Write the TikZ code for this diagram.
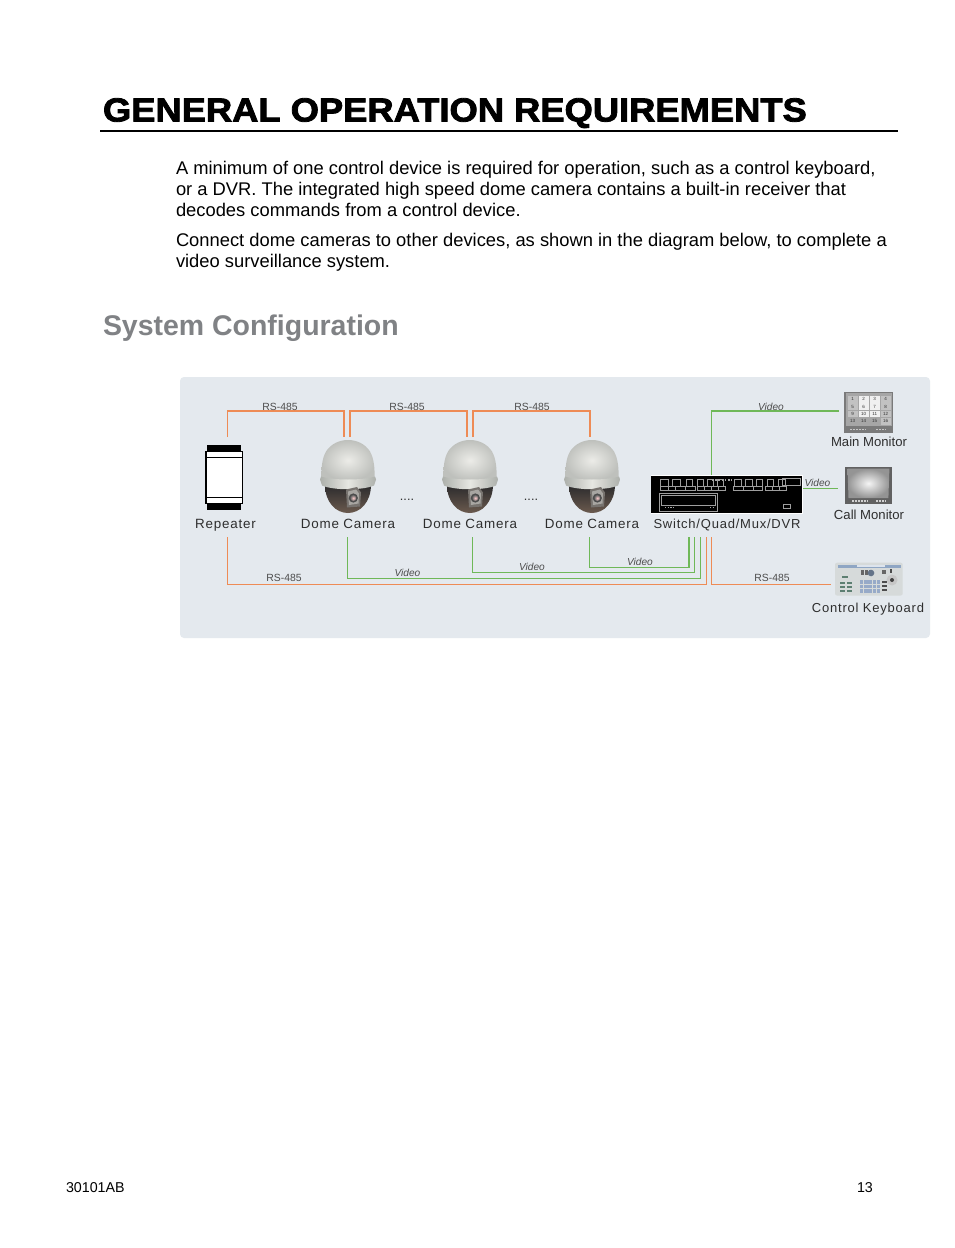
\documentclass[tikz,border=0pt]{standalone}
\usepackage{fontspec}
\setmainfont{Liberation Sans}
\newfontfamily\titlefont{Liberation Sans Bold}[FakeBold=2.4,FakeStretch=1.09]
\newfontfamily\labfont{Liberation Sans}[LetterSpace=6]
\newfontfamily\mlabfont{Liberation Sans}
\usetikzlibrary{calc}
\definecolor{panelc}{HTML}{E4E9EE}
\definecolor{orangec}{HTML}{EE8B55}
\definecolor{greenc}{HTML}{6FB858}
\definecolor{headgrey}{HTML}{808285}
\definecolor{labgrey}{HTML}{2E2E2E}
\definecolor{shellhi}{HTML}{ECECE8}
\definecolor{shelllo}{HTML}{BEC0BC}
\definecolor{collarhi}{HTML}{E6E7E2}
\definecolor{collarlo}{HTML}{ADB0AB}
\definecolor{balltop}{HTML}{2A2A2C}
\definecolor{ballbot}{HTML}{6B5A4E}
\definecolor{lensblock}{HTML}{77736F}
\definecolor{lensface}{HTML}{A8A6A2}
\definecolor{keyblue}{HTML}{97AAC8}
\definecolor{stripblue}{HTML}{8FA6C4}
\definecolor{keygreen}{HTML}{5D7F72}
\definecolor{kbbody}{HTML}{D6DADA}
\tikzset{
  x=0.75pt,y=-0.75pt,
  txt/.style={inner sep=0pt,outer sep=0pt,anchor=base west,text=black},
  para/.style={inner sep=0pt,outer sep=0pt,anchor=north west,align=left,font=\fontsize{13.76}{15.75}\selectfont},
  devlab/.style={inner sep=0pt,text=labgrey,font=\labfont\fontsize{10.05}{11}\selectfont,anchor=base},
  devlabs/.style={inner sep=0pt,text=labgrey,font=\labfont\fontsize{9.75}{11}\selectfont,anchor=base},
  monlab/.style={inner sep=0pt,text=labgrey,font=\mlabfont\fontsize{9.85}{12}\selectfont,anchor=base},
  wirelab/.style={inner sep=0pt,text=labgrey!85,font=\fontsize{7.8}{9}\selectfont,anchor=base},
  vidlab/.style={inner sep=0pt,text=labgrey!85,font=\itshape\fontsize{7.6}{9}\selectfont,anchor=base},
  rs/.style={draw=orangec,line width=1.15pt,line join=miter},
  vid/.style={draw=greenc,line width=1.1pt,line join=miter},
  box/.style={inner sep=0pt,outer sep=0pt,minimum width=0pt},
  swline/.style={draw=black!38,line width=0.4pt},
  pics/dome/.style={code={
    % lower ball
    \path[top color=balltop,bottom color=ballbot]
      (-23,8) .. controls (-23,26) and (-12,36.5) .. (0,36.5)
      .. controls (12,36.5) and (23,26) .. (23,8) -- cycle;
    % shell
    \path[inner color=shellhi,outer color=shelllo,draw=none]
      (-26.5,4) .. controls (-27,-8) and (-26,-18) .. (-22,-25)
      .. controls (-17,-33) and (-8,-36.5) .. (0,-36.5)
      .. controls (8,-36.5) and (17,-33) .. (22,-25)
      .. controls (26,-18) and (27,-8) .. (26.5,4) -- cycle;
    % collar
    \path[left color=collarlo,right color=collarlo,middle color=collarhi]
      (-28,3) -- (-27,0) .. controls (-15,4) and (15,4) .. (27,0) -- (28,3)
      -- (26,9) .. controls (15,14) and (-15,14) .. (-26,9) -- cycle;
    % lens block
    \path[fill=lensblock] (-2,13) -- (9,10.5) -- (13,16) -- (12,30) -- (-1,31) -- cycle;
    \path[fill=lensface] (0,15) -- (8,13) -- (11,17) -- (10.5,27) -- (1,28.5) -- cycle;
    \path[fill=black!70] (5.3,21.5) circle (4.6);
    \path[inner color=red!20!white,outer color=black!60] (5.3,21.5) circle (3);
  }},
}
\begin{document}
\begin{tikzpicture}
\useasboundingbox (0,0) rectangle (954,1248);
\fill[white] (0,0) rectangle (954,1248);

% --- page text
\node[txt,font=\titlefont\fontsize{25}{28}\selectfont] (title) at (103,121.5) {GENERAL OPERATION REQUIREMENTS};
\coordinate (ruleL) at (100,131.5);
\coordinate (ruleR) at (898,131.5);
\draw[black,line width=1.5pt] (ruleL) -- (ruleR);
\node[para] (p1) at (176,161.5) {A minimum of one control device is required for operation, such as a control keyboard,\\or a DVR. The integrated high speed dome camera contains a built-in receiver that\\decodes commands from a control device.};
\node[para] (p2) at (176,233.5) {Connect dome cameras to other devices, as shown in the diagram below, to complete a\\video surveillance system.};
\node[txt,text=headgrey,font=\bfseries\fontsize{21.35}{26}\selectfont] (sub) at (103,335.5) {System Configuration};
\node[txt,font=\fontsize{10.7}{12}\selectfont] (foot) at (66,1192) {30101AB};
\node[txt,font=\fontsize{10.7}{12}\selectfont] (pg) at (857,1192) {13};

% --- panel
\fill[panelc,rounded corners=3pt] (180,377) rectangle (930,638);

% --- repeater
\node[box] (repeater) at (224,477.5) {};
\fill[black] (207.3,445) rectangle (240.7,510);
\fill[black] (205,451) rectangle (243,504);
\fill[white] (206.5,452.4) rectangle (241.5,456.6);
\fill[white] (206.5,458.4) rectangle (241.5,496.6);
\fill[white] (206.5,498.4) rectangle (241.5,502.6);

% --- domes
\pic (dome1) at (348,476.5) {dome};
\pic (dome2) at (470,476.5) {dome};
\pic (dome3) at (592,476.5) {dome};
\node[inner sep=0pt,font=\fontsize{9.5}{9}\selectfont,text=labgrey,anchor=base] (dots1) at (407,500) {....};
\node[inner sep=0pt,font=\fontsize{9.5}{9}\selectfont,text=labgrey,anchor=base] (dots2) at (531,500) {....};

% --- switch
\fill[white] (650.5,475) rectangle (802.5,513.5);
\fill[black] (651.3,476) rectangle (801.7,512.5);
\foreach \xa/\xb in {660/668,668/675,675/685,685/695,697/704,704/711,711/718,718/725,733/743,743/753,753/762,765/772,772/779,779/786}{
  \draw[swline] (\xa,486) rectangle (\xb,490.5);
}
\foreach \xa/\xb in {660/668,672/680,686/692,697/703,707/713,717/723,734/741,745/752,756/762,767/773,778/785}{
  \draw[swline] (\xa,486) -- (\xa,479.5) -- (\xb,479.5) -- (\xb,486);
}
\draw[swline] (782,478.5) rectangle (800,485);
\draw[swline] (659.5,493.5) rectangle (717,511);
\draw[swline] (661.5,495.5) rectangle (715,505);
\draw[swline] (783,504.5) rectangle (790.5,508);
\draw[black!35,line width=0.8pt,dash pattern=on 1.2pt off 1.2pt] (712,480) -- (732,480);
\draw[black!35,line width=0.8pt,dash pattern=on 1pt off 1pt] (665,507.5) -- (674,507.5) (710,507.5) -- (714,507.5);

% --- main monitor
\fill[black!52] (844.3,391.7) rectangle (893,433);
\fill[black!35] (845.5,393) rectangle (891.8,426);
\foreach \i/\lbl in {0/1,1/2,2/3,3/4,4/5,5/6,6/7,7/8,8/9,9/10,10/11,11/12,12/13,13/14,14/15,15/16}{
  \pgfmathsetmacro{\cx}{847.5+mod(\i,4)*11}
  \pgfmathsetmacro{\cy}{396+floor(\i/4)*7.3}
  \pgfmathsetmacro{\sh}{(\i==1||\i==2||\i==5||\i==6||\i==9||\i==10)?6:(\i==12||\i==13||\i==14?35:24)}
  \fill[black!\sh] (\cx,\cy) rectangle ++(10.4,6.8);
  \node[inner sep=0pt,font=\fontsize{3.4}{4}\selectfont,text=black!80] at (\cx+5.2,\cy+3.4) {\lbl};
}
\draw[black!22,line width=0.8pt,dash pattern=on 1.4pt off 0.8pt] (850,429.5) -- (866,429.5) (876,429.5) -- (885,429.5);

% --- call monitor
\fill[black!62] (845,466.7) rectangle (891.7,504.3);
\path[inner color=white!92!gray,outer color=black!42] (847.5,468.6) -- (889.4,468.6) -- (888.4,498) -- (848.5,498) -- cycle;
\draw[black!18,line width=0.8pt,dash pattern=on 1.4pt off 0.8pt] (852,501) -- (868,501) (876,501) -- (885,501);

% --- keyboard
\fill[kbbody,rounded corners=1.5pt] (835,562.7) rectangle (902.7,595.5);
\fill[stripblue] (838,565) rectangle (901,567.6);
\fill[white!70!stripblue] (857,564.8) rectangle (885,567.4);
\foreach \row in {0,1,2}{
  \foreach \col in {0,1}{
    \fill[keygreen] ({840+\col*7},{582+\row*4}) rectangle ++(5,2);
  }
}
\fill[keygreen] (842,576) rectangle ++(6,2);
\foreach \col in {0,1,2,3,4}{
  \foreach \row in {0,1,2}{
    \fill[keyblue] ({860+\col*4.2},{580+\row*4.5}) rectangle ++(3.4,3.6);
  }
}
\foreach \col in {0,1,2}{ \fill[black!60] ({861+\col*4},570) rectangle ++(3,4.5);}
\fill[stripblue!70!black] (871,573) circle (3.3);
\foreach \row in {0,1,2}{ \fill[black!70] (882,{581+\row*4}) rectangle ++(5,2.2);}
\fill[black!60] (882,570) rectangle ++(4,4);
\fill[black!70] (890,569) rectangle ++(2,4);
\fill[black!22] (892,580) circle (5.5);
\fill[black!75] (892,580) circle (2);

% --- device labels
\node[devlab] (lrep) at (225.5,528) {Repeater};
\node[devlab] (lc1) at (348,528) {Dome Camera};
\node[devlab] (lc2) at (470,528) {Dome Camera};
\node[devlab] (lc3) at (592,528) {Dome Camera};
\node[devlabs] (lsw) at (727,528) {Switch/Quad/Mux/DVR};
\node[monlab] (lmm) at (869,446.5) {Main Monitor};
\node[monlab] (lcm) at (869,519.5) {Call Monitor};
\node[devlabs] (lkb) at (868,612.5) {Control Keyboard};

% --- connector ends
\coordinate (repT) at (227.3,437);
\coordinate (c1Ta) at (344.2,437);
\coordinate (c1Tb) at (350,437);
\coordinate (c2Ta) at (467.4,437);
\coordinate (c2Tb) at (472.8,437);
\coordinate (c3T) at (590,437);
\coordinate (repB) at (227.5,537);
\coordinate (c1B) at (347.5,537);
\coordinate (c2B) at (472.5,537);
\coordinate (c3B) at (589.5,537);
\coordinate (swB1) at (689,537);
\coordinate (swB2) at (694.7,537);
\coordinate (swB3) at (700.7,537);
\coordinate (swB4) at (706.7,537);
\coordinate (swB5) at (711.5,537);
\coordinate (swT) at (711.5,475);
\coordinate (swR) at (803,488.7);
\coordinate (mmL) at (839,411);
\coordinate (cmL) at (837.7,488.7);
\coordinate (kbL) at (830.7,584.5);

% --- RS-485 wires
\draw[rs] (repT) -- ($(repT)+(0,-26)$) -| (c1Ta);
\draw[rs,line width=1.4pt] (c1Tb) -- ($(c1Tb)+(0,-26)$) -| (c2Ta);
\draw[rs,line width=1.25pt] (c2Tb) -- ($(c2Tb)+(0,-26)$) -| (c3T);
\draw[rs] (repB) |- ($(swB4)+(0,47.5)$) -- (swB4);
\draw[rs] (swB5) |- (kbL);

% --- video wires
\draw[vid] (c1B) |- ($(swB3)+(0,41.3)$) -- (swB3);
\draw[vid] (c2B) |- ($(swB2)+(0,35.3)$) -- (swB2);
\draw[vid] (c3B) |- ($(swB1)+(0,30.5)$) -- (swB1);
\draw[vid] (swT) |- (mmL);
\draw[vid] (swR) -- (cmL);

% --- wire labels
\node[wirelab] (w1) at (280,410) {RS-485};
\node[wirelab] (w2) at (407,410) {RS-485};
\node[wirelab] (w3) at (532,410) {RS-485};
\node[wirelab] (w4) at (284,581) {RS-485};
\node[wirelab] (w5) at (772,581) {RS-485};
\node[vidlab] (v1) at (771,410) {Video};
\node[vidlab] (v2) at (817.5,486) {Video};
\node[vidlab] (v3) at (407.5,576) {Video};
\node[vidlab] (v4) at (532,570.5) {Video};
\node[vidlab] (v5) at (640,565) {Video};
\end{tikzpicture}
\end{document}
